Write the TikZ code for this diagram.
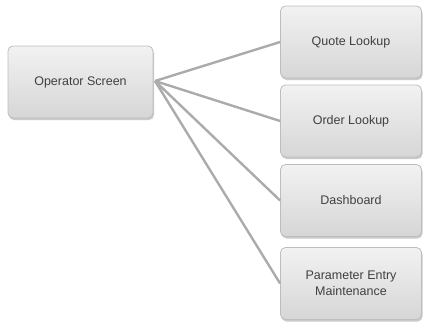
\documentclass[tikz,border=0pt]{standalone}
\usepackage{fontspec}
\setmainfont{Liberation Sans}
\usetikzlibrary{shadows}
\definecolor{boxtop}{HTML}{F2F2F2}
\definecolor{boxbot}{HTML}{D6D6D6}
\definecolor{boxline}{HTML}{BDBDBD}
\definecolor{txt}{HTML}{404040}
\definecolor{conn}{HTML}{ABABAB}
\tikzset{
  card/.style={draw=boxline, line width=0.8pt, rounded corners=5pt,
    top color=boxtop, bottom color=boxbot, text=txt,
    font=\fontsize{12.5}{15.5}\selectfont, align=center, inner sep=0pt,
    drop shadow={shadow xshift=1pt, shadow yshift=-2pt, opacity=0.35, fill=black!60}},
  leftcard/.style={card, minimum width=145pt, minimum height=72pt},
  rightcard/.style={card, minimum width=141pt, minimum height=72pt},
  link/.style={draw=conn, line width=2.4pt}
}
\begin{document}
\begin{tikzpicture}[x=1pt, y=-1pt]
\useasboundingbox (0,0) rectangle (426,327);
\node[leftcard] (op) at (80.5,82) {Operator Screen};
\node[rightcard] (q) at (351,42) {Quote Lookup};
\node[rightcard] (o) at (351,121) {Order Lookup};
\node[rightcard] (d) at (351,200.5) {Dashboard};
\node[rightcard] (p) at (351,283.5) {Parameter Entry\\Maintenance};
\coordinate (hub) at (155,81);
\draw[link] (hub) -- (q.west);
\draw[link] (hub) -- (o.west);
\draw[link] (hub) -- (d.west);
\draw[link] (hub) -- (p.west);
\end{tikzpicture}
\end{document}
